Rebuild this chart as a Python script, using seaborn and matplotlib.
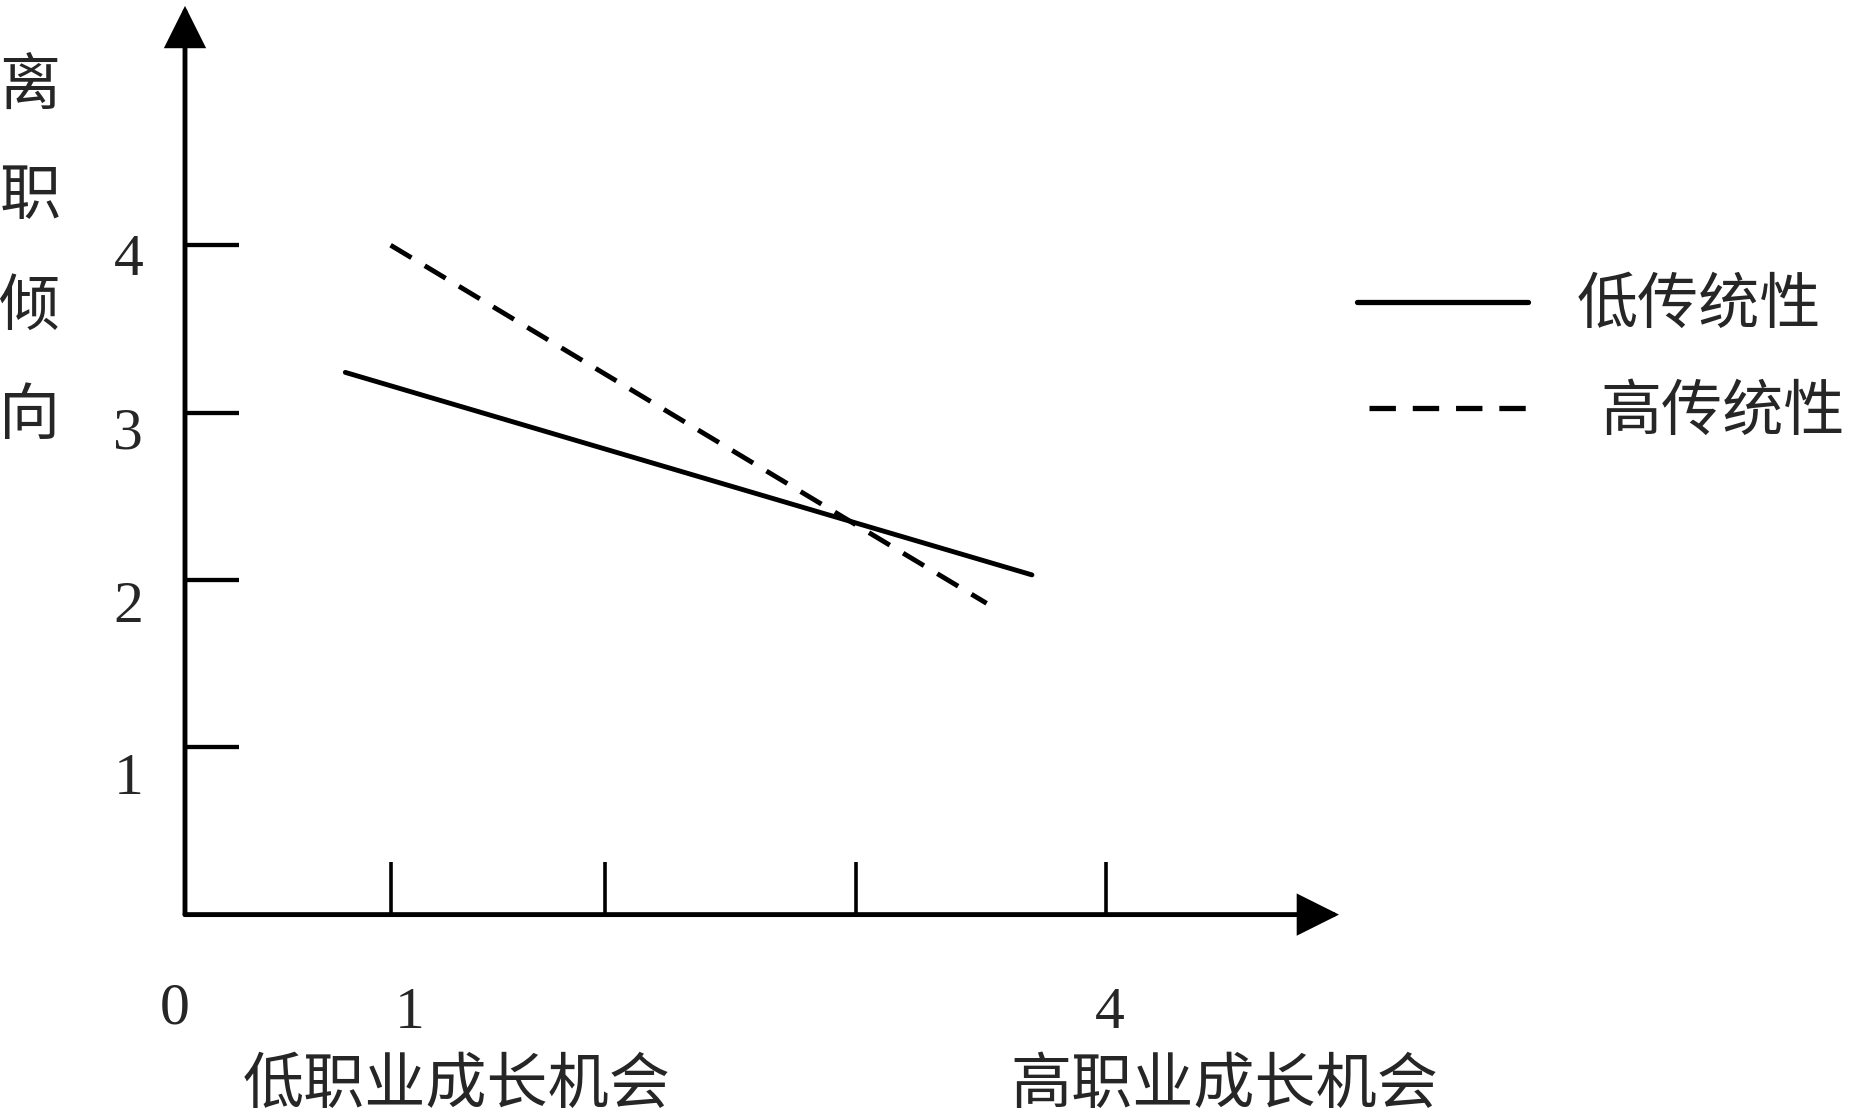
import matplotlib
matplotlib.use("Agg")
import matplotlib.pyplot as plt
import matplotlib.transforms as mtransforms
import seaborn as sns
import pandas as pd

# ---- data ----
series_names = ["低传统性", "高传统性"]
low_x = [0.81, 3.69]
low_y = [3.24, 2.03]
high_x = [1.0, 3.5]
high_y = [4.0, 1.86]

y_ticks = [1, 2, 3, 4]
y_tick_labels = ["1", "2", "3", "4"]
x_ticks = [1, 1.9, 2.95, 4]
x_tick_labels = ["1", "", "", "4"]
origin_label = "0"
x_end_labels = ["低职业成长机会", "高职业成长机会"]
y_label = "离职倾向"

sns.set_style("white")
plt.rcParams["font.family"] = ["Noto Sans CJK SC", "DejaVu Sans"]

W, H = 1850, 1118
fig = plt.figure(figsize=(W / 100, H / 100), dpi=100)
left_px, right_px, bottom_px, top_px = 185, 1339, 914.6, 5.9
ax = fig.add_axes([left_px / W, 1 - bottom_px / H,
                   (right_px - left_px) / W, (bottom_px - top_px) / H])

df = pd.concat([
    pd.DataFrame({"x": low_x, "y": low_y, "group": series_names[0]}),
    pd.DataFrame({"x": high_x, "y": high_y, "group": series_names[1]}),
])

sns.lineplot(data=df, x="x", y="y", hue="group", style="group",
             palette=["black", "black"],
             dashes={series_names[0]: "", series_names[1]: (5, 3.2)},
             linewidth=3.5, ax=ax, legend=True, sort=False)

ax.set_xlim(0.1376, 4.978)
ax.set_ylim(0, 5.43)

for s in ax.spines.values():
    s.set_visible(False)

# axis arrows
arrow_kw = dict(arrowstyle="-|>", mutation_scale=62, lw=3.5, color="black",
                shrinkA=0, shrinkB=0, joinstyle="miter")
ax.annotate("", xy=(0, 1), xytext=(0, 0), xycoords="axes fraction",
            textcoords="axes fraction", arrowprops=arrow_kw, annotation_clip=False)
ax.annotate("", xy=(1, 0), xytext=(0, 0), xycoords="axes fraction",
            textcoords="axes fraction", arrowprops=arrow_kw, annotation_clip=False)

# ticks
ax.set_yticks(y_ticks)
ax.set_yticklabels(y_tick_labels, family="Liberation Serif", fontsize=43)
ax.tick_params(axis="y", direction="in", length=39, width=3.1, pad=30,
               left=True, color="black")
ax.set_xticks(x_ticks)
ax.set_xticklabels(x_tick_labels, family="Liberation Serif", fontsize=43)
ax.tick_params(axis="x", direction="in", length=38, width=2.6, pad=52,
               bottom=True, color="black")

y_label_shift = [0.26, 0.22, 0.15, 0.09]   # inches downward, per label
for lab, sh in zip(ax.get_yticklabels(), y_label_shift):
    lab.set_transform(lab.get_transform() +
                      mtransforms.ScaledTranslation(0, -sh, fig.dpi_scale_trans))
x_label_shift = [0.19, 0, 0, 0.035]
for lab, sh in zip(ax.get_xticklabels(), x_label_shift):
    lab.set_transform(lab.get_transform() +
                      mtransforms.ScaledTranslation(sh, 0, fig.dpi_scale_trans))

ax.text(-0.009, -0.1039, origin_label, transform=ax.transAxes,
        family="Liberation Serif", fontsize=43, ha="center", va="center")

cjk_size = 44
ax.set_xlabel("")
ax.text(0.2357, -0.188, x_end_labels[0], transform=ax.transAxes,
        fontsize=cjk_size, ha="center", va="center")
ax.text(0.9003, -0.188, x_end_labels[1], transform=ax.transAxes,
        fontsize=cjk_size, ha="center", va="center")

ax.set_ylabel("\n".join(y_label), rotation=0, fontsize=cjk_size, ha="center",
              va="center", linespacing=1.98)
ax.yaxis.set_label_coords(-0.1343, 0.729)

leg = ax.legend(loc="center left", bbox_to_anchor=(1357 / W, 1 - 359 / H),
                bbox_transform=fig.transFigure, frameon=False, fontsize=cjk_size,
                handlelength=2.8, handletextpad=0.8, labelspacing=0.72,
                borderpad=0, borderaxespad=0, title=None)
for h in leg.get_lines():
    h.set_linewidth(3.8)
# second entry is indented slightly in the reference
shift2 = mtransforms.ScaledTranslation(0.12, 0, fig.dpi_scale_trans)
leg.get_lines()[1].set_transform(leg.get_lines()[1].get_transform() + shift2)
shift2t = mtransforms.ScaledTranslation(0.23, 0, fig.dpi_scale_trans)
leg.get_texts()[1].set_transform(leg.get_texts()[1].get_transform() + shift2t)

fig.savefig("out.png", dpi=100)
